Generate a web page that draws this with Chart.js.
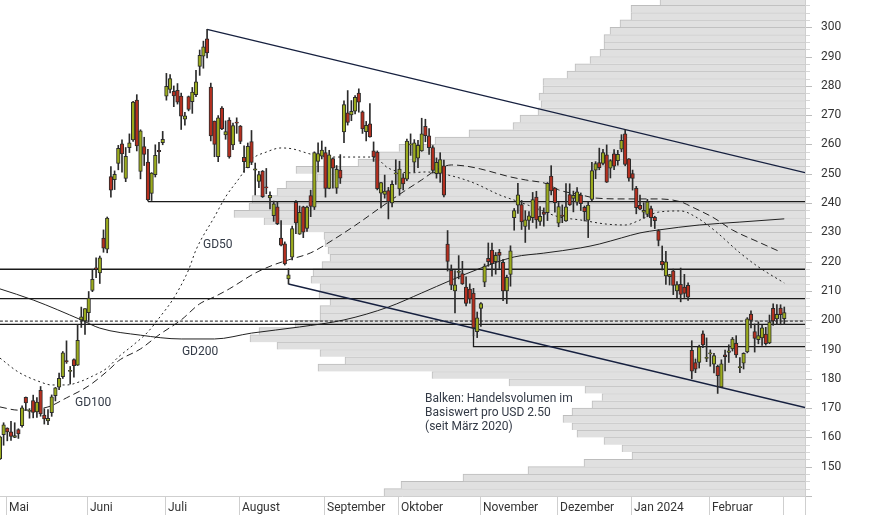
<!DOCTYPE html>
<html><head><meta charset="utf-8">
<script src="https://cdn.jsdelivr.net/npm/chart.js@4.4.1/dist/chart.umd.min.js"></script>
<style>html,body{margin:0;padding:0;background:#fff}#wrap{width:874px;height:515px}</style>
</head><body><div id="wrap"><canvas id="c" width="874" height="515"></canvas></div>
<script>
// ---- trading-day index of first candle (Apr 27, 2023 = -2; May 1 = 0) ----
const firstIndex = -2;
const opens = [152.64,160.90,
163.17,161.88,160.01,162.71,163.97,173.72,168.95,172.55,168.70,176.07,167.66,165.65,168.41,174.22,177.17,180.70,186.20,182.56,186.54,184.62,200.10,199.78,
202.59,210.15,217.80,216.14,228.00,224.22,249.07,247.94,253.51,260.17,248.40,258.92,261.50,275.13,250.77,259.29,254.00,243.24,249.70,258.03,260.60,
276.49,278.82,278.09,278.43,276.47,268.65,276.33,274.59,277.01,286.63,290.15,296.04,279.56,268.00,255.85,272.38,263.25,268.31,259.86,267.48,
266.26,255.57,252.04,260.97,251.45,247.40,250.87,245.40,241.77,235.70,238.73,228.02,226.06,214.12,221.55,240.25,229.34,238.66,231.31,242.58,238.58,254.20,255.98,
257.26,245.00,255.14,245.07,251.22,264.27,270.76,270.07,271.32,277.55,271.16,264.35,267.04,257.85,257.40,243.38,242.98,244.26,240.02,250.00,
244.81,248.61,248.14,260.00,253.98,255.31,257.75,266.20,262.92,258.90,250.05,250.10,252.70,225.95,217.01,210.00,216.50,215.88,211.32,210.60,209.28,196.12,
204.04,212.97,221.15,223.98,219.98,223.15,219.75,210.03,215.60,235.03,239.29,239.49,232.00,234.04,235.04,242.04,233.75,236.89,236.68,249.21,245.14,
233.14,235.75,233.87,242.92,241.55,240.27,242.74,238.55,234.19,241.22,251.21,253.78,253.48,256.41,251.90,256.76,254.49,258.35,263.66,255.10,
250.08,244.98,239.25,236.86,236.14,238.11,235.10,230.57,220.08,215.10,214.86,216.88,209.99,212.26,211.30,211.88,189.70,185.50,185.63,195.33,187.00,
188.50,185.04,184.26,177.21,188.18,189.00,190.18,192.11,183.99,185.30,189.16,202.06,196.13,193.36,194.00,195.31,192.29,204.04,200.42,204.18,
200.52];
const highs = [160.48,165.00,
163.28,165.49,165.00,162.95,170.79,173.80,169.82,174.43,173.57,177.38,169.76,169.52,174.50,177.06,181.95,189.32,192.96,184.22,186.78,198.60,204.48,203.95,
209.80,217.25,221.29,221.91,230.83,235.23,252.42,250.97,259.68,261.57,258.95,263.60,274.75,276.99,265.00,262.45,258.37,250.39,259.88,260.74,264.45,
284.25,283.85,279.97,280.78,277.52,270.93,276.52,279.45,285.30,292.23,295.26,299.29,280.93,268.00,269.85,272.90,268.04,269.13,267.25,269.08,
266.47,259.52,260.49,264.77,253.65,250.85,251.10,251.80,243.79,240.66,240.50,233.97,226.74,217.58,232.13,240.82,238.98,238.92,239.00,244.38,257.48,260.51,261.18,
259.08,258.00,255.39,252.81,256.52,274.85,278.39,274.98,276.71,278.98,271.44,267.85,273.93,260.86,257.79,247.10,249.55,245.33,247.55,254.77,
254.28,250.02,261.86,263.60,261.65,261.36,268.94,268.60,265.41,259.60,255.40,257.18,254.63,230.61,218.86,216.98,222.05,220.10,214.80,212.41,210.88,202.80,
205.99,219.20,226.37,226.32,223.12,224.15,220.80,215.38,225.40,238.14,246.70,240.88,237.39,237.10,243.62,244.01,238.75,238.33,247.00,252.75,245.22,
240.19,239.37,246.66,246.57,244.08,245.27,243.44,238.99,240.30,253.88,254.13,258.74,258.34,259.84,254.80,258.22,257.97,263.34,265.13,255.19,
251.25,245.68,242.70,240.12,241.25,238.96,235.50,230.93,225.34,223.49,215.67,217.45,213.19,217.80,215.65,212.73,193.00,186.78,191.48,196.36,193.97,
189.88,188.69,184.68,186.49,189.79,191.62,194.12,194.73,187.26,188.89,200.88,203.17,198.72,199.44,198.32,197.57,201.78,205.60,205.30,205.28,
204.52];
const lows = [152.37,157.32,
158.83,158.93,159.91,159.65,163.51,169.19,166.56,166.68,166.79,167.23,164.55,164.35,167.19,172.45,176.31,180.11,185.26,178.22,180.58,184.53,197.53,195.12,
199.37,209.75,214.52,212.53,223.20,223.01,242.02,244.59,251.34,250.50,247.29,257.21,261.07,257.78,248.25,252.80,240.70,240.85,248.89,253.61,259.89,
275.11,277.60,272.88,273.77,265.10,266.60,271.46,270.60,276.31,283.57,286.01,289.52,261.20,255.80,254.12,265.00,261.75,255.30,258.23,263.78,
260.25,250.49,252.00,253.11,242.76,245.20,241.90,243.13,238.02,233.75,232.61,225.38,218.83,212.36,220.58,229.55,229.29,228.18,230.35,235.35,237.77,250.59,255.05,
242.01,244.86,245.06,243.27,246.67,260.61,266.60,268.10,270.42,271.00,263.76,261.20,262.46,254.21,244.48,238.31,241.66,234.58,238.65,246.35,
242.62,244.45,247.60,256.25,250.65,252.05,257.65,260.90,256.63,250.22,248.48,247.08,242.08,216.78,210.42,202.51,214.11,212.20,204.88,205.77,194.67,194.07,
197.85,211.45,218.40,215.00,215.72,217.64,206.68,205.69,211.61,230.72,236.45,230.96,226.54,231.02,233.34,231.40,232.33,232.10,234.01,242.76,236.91,
231.90,233.29,233.70,239.17,236.98,239.27,237.45,233.87,228.20,240.79,248.30,251.36,253.01,247.00,248.55,251.37,252.91,257.52,252.71,247.43,
244.41,236.32,237.73,234.90,235.30,232.04,231.29,225.37,217.15,212.18,212.01,208.74,207.56,206.27,207.75,206.77,180.06,182.10,183.67,190.61,185.85,
184.28,182.00,175.01,177.11,182.68,185.58,189.48,187.28,182.11,183.35,188.86,197.40,189.13,191.95,191.36,191.50,192.00,198.26,198.44,198.45,
198.50];
const closes = [160.19,164.31,
161.83,160.31,160.61,161.20,170.06,171.79,169.15,168.54,172.08,167.98,166.35,166.52,173.86,176.89,180.14,188.87,185.77,182.90,184.47,193.17,201.16,203.93,
207.52,213.97,217.61,221.31,224.57,234.86,244.40,249.83,258.71,256.79,255.90,260.54,274.45,259.46,264.61,256.60,241.05,250.21,256.24,257.50,261.77,
279.82,282.48,276.54,274.43,269.61,269.79,271.99,277.90,281.38,290.38,293.34,291.26,262.90,260.02,269.06,265.28,264.35,255.71,266.44,267.43,
261.07,254.11,259.32,253.86,251.45,249.70,242.19,245.34,242.65,239.76,232.96,225.60,219.22,215.49,231.28,233.19,236.86,230.04,238.59,238.82,257.18,256.90,258.08,
245.01,256.49,251.92,251.49,248.50,273.58,267.48,271.30,276.04,274.39,265.28,266.50,262.59,255.70,244.88,246.99,244.12,240.50,246.38,250.22,
251.60,246.53,261.16,260.05,260.53,259.67,263.62,262.99,258.87,251.12,253.92,254.85,242.68,220.11,211.99,212.08,216.52,212.42,205.76,207.30,197.36,200.84,
205.66,218.51,219.96,219.27,222.18,222.11,209.98,214.65,223.71,237.41,242.84,233.59,234.30,235.60,241.20,234.21,235.45,236.08,246.72,244.14,240.08,
238.83,235.58,238.72,239.37,242.64,243.84,239.74,237.01,239.29,251.05,253.50,252.08,257.22,247.14,254.50,252.54,256.61,261.44,253.18,248.48,
248.42,238.45,237.93,237.49,240.45,234.96,233.94,227.22,218.89,219.91,215.55,211.88,212.19,208.80,209.14,207.83,182.63,183.25,190.93,191.59,187.29,
188.86,187.91,181.06,185.10,187.58,189.56,193.57,188.13,184.02,188.71,200.45,199.95,193.76,194.77,197.41,191.97,199.40,199.73,202.04,201.88,
202.64];

// ---- x axis: month starts (trading-day index) ----
const monthStarts = [0,22,43,63,86,106,128,149,169,190,210];
const monthLabels = ['Mai','Juni','Juli','August','September','Oktober','November','Dezember','Jan 2024','Februar',''];

// ---- y axis ----
const yMin = 140, yMax = 309.3, yMinorStep = 2.5, yLabelStep = 10, yLabelFrom = 150, yLabelTo = 300;

// ---- moving averages (trading-day index, price) ----
const gd50Days  = [-2,3,9,12,16,20,23,27,30,34,38,41,45,49,51,56,59,63,66,70,74,77,82,87,99,103,109,113,119,126,133,137,142,149,155,162,167,171,176,182,186,191,198,203,210];
const gd50Vals  = [187.1,182.3,178.9,177.9,177.9,179.2,180.9,183.7,187.4,191.5,196.0,200.7,207.6,217.2,224.0,235.3,242.1,249.0,254.8,257.4,258.8,258.5,256.7,255.7,255.7,251.9,250.3,250.6,249.6,246.9,242.8,241.0,238.7,235.3,234.2,232.8,232.5,234.2,236.9,237.3,235.3,230.8,223.0,218.2,212.7];
const gd100Days = [-2,3,11,16,22,28,30,36,41,47,52,56,60,67,72,76,82,88,95,101,107,112,116,120,124,128,131,136,140,146,149,155,159,167,176,182,185,191,196,203,209];
const gd100Vals = [170.4,169.3,170.4,173.5,177.6,183.7,186.1,190.2,195.0,200.1,205.6,208.0,210.7,216.1,218.9,220.6,223.0,227.4,233.2,238.6,243.8,247.9,251.3,253.0,252.6,251.6,250.6,248.9,247.9,246.5,244.5,242.8,241.7,241.4,241.4,240.4,238.7,234.9,230.8,226.7,223.3];
const gd200Days = [-2,7,20,25,36,47,56,66,79,91,103,112,120,128,137,145,155,160,166,171,176,187,198,210];
const gd200Vals = [210.7,206.9,200.1,197.3,194.9,193.6,193.6,195.6,197.7,200.1,204.5,209.3,213.7,217.8,221.6,222.9,224.7,226.0,228.1,229.8,230.8,232.5,233.5,234.6];

// ---- trend lines & levels ----
const upperTrendDays = [54, 215.6];   const upperTrendVals = [299.3, 250.4];
const lowerTrendDays = [76, 215.6];   const lowerTrendVals = [212.36, 170.2];
const levelVals  = [240.5, 217.4, 207.4, 198.6];
const levelStart = [38, -2, -2, -2];
const dashedLevel = 199.7;
const supportDays = [126, 126, 215.6]; const supportVals = [194.67, 191.0, 191.0];

// ---- volume profile: bins of USD 2.50 starting at 140 (relative volume) ----
const profileLow = 140, profileStep = 2.5;
const profileVolume = [421,404,342,277,221,173,183,201,228,233,242,233,213,203,220,296,373,487,460,485,
528,555,546,510,485,485,475,486,485,494,492,483,475,477,480,481,507,541,571,556,
553,528,519,488,509,447,426,406,370,336,292,285,267,264,266,262,262,238,230,215,
205,201,201,195,185,174,174,145];
const profileScaleMax = 805;

// ---- text ----
const notes = [
  {text:'GD50',  day:52.9, price:225.6},
  {text:'GD200', day:47.2, price:189.1},
  {text:'GD100', day:18.3, price:171.7},
  {text:'Balken: Handelsvolumen im', day:112.9, price:173.2},
  {text:'Basiswert pro USD 2.50', day:112.9, price:168.4},
  {text:'(seit März 2020)', day:112.9, price:163.6}
];

const FONT = "Roboto, 'Open Sans', sans-serif";
const UP = '#9bab1d', DOWN = '#b52f1f', EDGE = '#2b2b2b';

const idx = opens.map((_, i) => firstIndex + i);
const wickData = idx.map((d, i) => ({x: d, y: [lows[i], highs[i]]}));
const bodyData = idx.map((d, i) => {
  let a = opens[i], b = closes[i];
  if (Math.abs(a - b) < 0.4) { const m = (a + b) / 2; a = m - 0.2; b = m + 0.2; }
  return {x: d, y: [a, b]};
});
const bodyColors = idx.map((d, i) => closes[i] >= opens[i] ? UP : DOWN);
const pts = (xs, ys) => xs.map((x, i) => ({x, y: ys[i]}));
const profileData = profileVolume.map((v, i) => ({y: profileLow + profileStep * (i + 0.5), x: v}));

const lineBase = {type:'line', pointRadius:0, borderWidth:1, fill:false, borderColor:'#222', order:5};
const datasets = [
  {type:'bar', label:'profile', data: profileData, indexAxis:'y', xAxisID:'xv', yAxisID:'yv',
   backgroundColor:'#e0e0e0', borderColor:'#bdbdbd', borderSkipped:false,
   borderWidth:{top:1,left:1,right:0,bottom:0}, barPercentage:1, categoryPercentage:1, grouped:false, order:10},
  Object.assign({}, lineBase, {label:'GD200', data: pts(gd200Days, gd200Vals), cubicInterpolationMode:'monotone'}),
  Object.assign({}, lineBase, {label:'GD100', data: pts(gd100Days, gd100Vals), borderDash:[7,4], cubicInterpolationMode:'monotone'}),
  Object.assign({}, lineBase, {label:'GD50', data: pts(gd50Days, gd50Vals), borderDash:[2,3], cubicInterpolationMode:'monotone'}),
  Object.assign({}, lineBase, {label:'upper', data: pts(upperTrendDays, upperTrendVals), borderColor:'#16203f', borderWidth:1.3, order:4}),
  Object.assign({}, lineBase, {label:'lower', data: pts(lowerTrendDays, lowerTrendVals), borderColor:'#16203f', borderWidth:1.3, order:4}),
  ...levelVals.map((v, k) => Object.assign({}, lineBase, {label:'lvl'+k, data:[{x:levelStart[k], y:v},{x:215.6, y:v}], borderColor:'#1a1a1a', borderWidth:1.3, order:4})),
  Object.assign({}, lineBase, {label:'dash', data:[{x:-2, y:dashedLevel},{x:215.6, y:dashedLevel}], borderColor:'#1a1a1a', borderDash:[3,2], borderWidth:1, order:4}),
  Object.assign({}, lineBase, {label:'support', data: pts(supportDays, supportVals), borderColor:'#1a1a1a', borderWidth:1.3, order:4}),
  {type:'bar', label:'wick', data: wickData, xAxisID:'x', yAxisID:'y', backgroundColor: EDGE, borderWidth:0,
   barThickness:1, grouped:false, order:2},
  {type:'bar', label:'body', data: bodyData, xAxisID:'x', yAxisID:'y', backgroundColor: bodyColors, borderColor: EDGE,
   borderWidth:1, borderSkipped:false, barThickness:3.6, grouped:false, order:1}
];

const decor = {
  id:'decor',
  afterDraw(chart) {
    const {ctx, chartArea:a, scales:{x, y}} = chart;
    ctx.save();
    ctx.strokeStyle = '#cfcfcf'; ctx.lineWidth = 1;
    // axis frame
    ctx.beginPath(); ctx.moveTo(0, a.bottom + 0.5); ctx.lineTo(a.right, a.bottom + 0.5); ctx.stroke();
    ctx.beginPath(); ctx.moveTo(a.right + 0.5, 0); ctx.lineTo(a.right + 0.5, chart.height); ctx.stroke();
    // y ticks (major longer, minor shorter)
    for (let v = yMin; v <= yMax + 1e-6; v += yMinorStep) {
      const py = Math.round(y.getPixelForValue(v)) + 0.5;
      const major = Math.abs(v % yLabelStep) < 1e-6;
      ctx.strokeStyle = major ? '#bdbdbd' : '#d6d6d6';
      ctx.beginPath(); ctx.moveTo(a.right + 1, py); ctx.lineTo(a.right + (major ? 7 : 5), py); ctx.stroke();
    }
    // month separators and labels
    ctx.strokeStyle = '#cfcfcf';
    ctx.font = '12px ' + FONT; ctx.fillStyle = '#333'; ctx.textBaseline = 'middle'; ctx.textAlign = 'left';
    monthStarts.forEach((m, k) => {
      const px = Math.round(x.getPixelForValue(m - 0.35)) + 0.5;
      ctx.beginPath(); ctx.moveTo(px, a.bottom); ctx.lineTo(px, chart.height); ctx.stroke();
      if (monthLabels[k]) ctx.fillText(monthLabels[k], px + 2.5, a.bottom + 11.5);
    });
    ctx.fillStyle = '#333a46';
    notes.forEach(n => ctx.fillText(n.text, x.getPixelForValue(n.day), y.getPixelForValue(n.price)));
    ctx.restore();
  }
};

new Chart(document.getElementById('c'), {
  type:'bar',
  data:{datasets},
  options:{
    responsive:false, animation:false, devicePixelRatio:1,
    layout:{padding:{left:0, right:0, top:0, bottom:19}},
    plugins:{legend:{display:false}, tooltip:{enabled:false}},
    scales:{
      x:{type:'linear', min:-1.973, max:215.6, display:false, offset:false},
      xv:{type:'linear', axis:'x', min:0, max:profileScaleMax, reverse:true, display:false, offset:false},
      yv:{type:'linear', axis:'y', min:yMin, max:yMax, display:false, offset:false},
      y:{type:'linear', position:'right', min:yMin, max:yMax, offset:false,
         afterFit(s){ s.width = 69; s.paddingTop = 0; s.paddingBottom = 0; },
         grid:{display:false},
         border:{display:false},
         ticks:{stepSize:yMinorStep, includeBounds:false, autoSkip:false, padding:8, color:'#333',
                font:{family:FONT, size:12},
                callback:(v) => (Math.abs(v % yLabelStep) < 1e-6 && v >= yLabelFrom && v <= yLabelTo) ? String(v) : ''}}
    }
  },
  plugins:[decor]
});
</script>
</body></html>
